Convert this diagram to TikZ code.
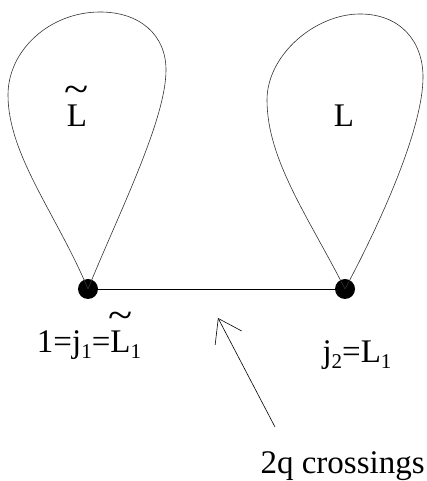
\documentclass[tikz,border=0pt]{standalone}
\usepackage{fontspec}
\setmainfont{Liberation Serif}
\usetikzlibrary{arrows.meta}
\newcommand{\lowidx}[1]{\raisebox{-0.35ex}{\fontsize{21}{21}\selectfont #1}}
\newcommand{\tildeL}{\ooalign{L\cr\hidewidth\raisebox{0.74em}{\scalebox{1.35}[1.2]{\textasciitilde}}\hidewidth\cr}}

\begin{document}
\begin{tikzpicture}[
  x=1pt,y=1pt,
  font=\fontsize{33}{36}\selectfont,
  >={Straight Barb[length=22pt,width=30pt]},
  vertex/.style={circle,fill=black,inner sep=0pt,minimum size=20pt},
  loopline/.style={draw=black!80,line width=0.6pt},
  bond/.style={draw=black,line width=0.8pt},
  pointer/.style={->,draw=black,line width=0.6pt},
]
\useasboundingbox (0,0) rectangle (427,481);

% ---- vertices -------------------------------------------------------------
\node[vertex] (j1) at ( 88,192) {};
\node[vertex] (j2) at (345,192) {};

% ---- the two loops --------------------------------------------------------
\draw[loopline] (j1.center) .. controls (57,266) and (8,326) .. (8,386)
  .. controls (8,431) and (50,469) .. (100,469)
  .. controls (140,469) and (166,446) .. (166,411)
  .. controls (166,361) and (118,266) .. (j1.center);
\draw[loopline] (j2.center) .. controls (309,263) and (267,321) .. (267,381)
  .. controls (267,426) and (315,467) .. (360,467)
  .. controls (400,467) and (423,440) .. (423,404)
  .. controls (423,354) and (383,263) .. (j2.center);

% ---- segment between the vertices ----------------------------------------
\draw[bond] (j1) -- (j2);

% ---- labels ---------------------------------------------------------------
\node[anchor=base] (ltil) at ( 77,354) {\tildeL};
\node[anchor=base] (lrt)  at (344,354) {L};
\node[anchor=base] (lab1) at ( 89,128) {1=j\lowidx{1}=\tildeL\lowidx{1}};
\node[anchor=base] (lab2) at (357,118) {j\lowidx{2}=L\lowidx{1}};
\node[anchor=base west] (cross) at (257,8) {2q crossings};

% ---- arrow to the segment -------------------------------------------------
\coordinate (tail) at (275,54);
\coordinate (tip)  at (218,163);
\draw[pointer] (tail) -- (tip);

\end{tikzpicture}
\end{document}
